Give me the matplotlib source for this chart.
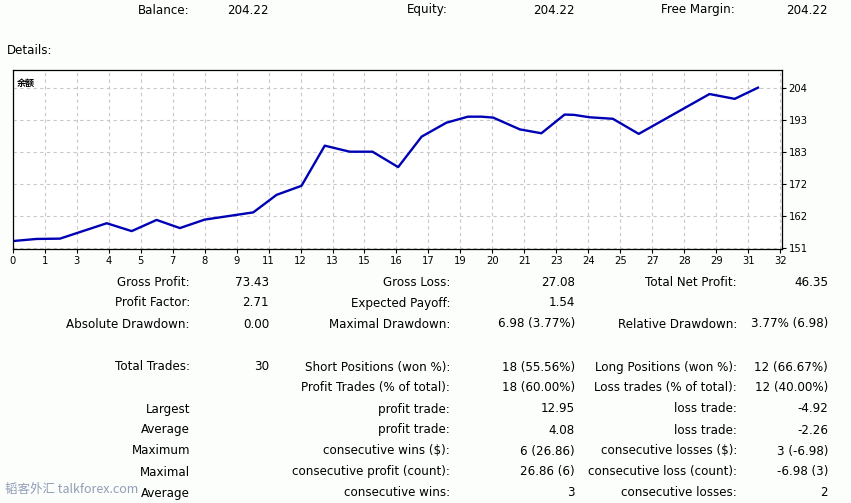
import numpy as np
import matplotlib.pyplot as plt

# balance curve (trade axis units, value)
trade_x = [0.0, 1.0, 1.97, 3.92, 4.96, 6.0, 6.97, 8.0, 10.03, 11.0, 12.04, 13.01,
           14.05, 15.0, 16.07, 17.05, 18.08, 18.98, 19.54, 20.03, 21.14, 22.04,
           23.01, 23.4, 24.05, 25.02, 26.1, 29.05, 30.1, 31.07]
balance = [153.4, 154.1, 154.2, 159.3, 156.7, 160.4, 157.7, 160.5, 162.9, 168.7,
           171.7, 185.0, 183.0, 183.0, 177.9, 188.0, 192.6, 194.6, 194.6, 194.3,
           190.4, 189.1, 195.3, 195.2, 194.4, 193.9, 188.9, 202.1, 200.5, 204.2]

x_labels = ['0', '1', '3', '4', '5', '7', '8', '9', '11', '12', '13', '15', '16',
            '17', '19', '20', '21', '23', '24', '25', '27', '28', '29', '31', '32']
y_labels = ['151', '162', '172', '183', '193', '204']

header = [('Balance:', '204.22'), ('Equity:', '204.22'), ('Free Margin:', '204.22')]

rows = [
    (283, ['Gross Profit:', '73.43', 'Gross Loss:', '27.08', 'Total Net Profit:', '46.35']),
    (303, ['Profit Factor:', '2.71', 'Expected Payoff:', '1.54', '', '']),
    (324, ['Absolute Drawdown:', '0.00', 'Maximal Drawdown:', '6.98 (3.77%)',
           'Relative Drawdown:', '3.77% (6.98)']),
    (367, ['Total Trades:', '30', 'Short Positions (won %):', '18 (55.56%)',
           'Long Positions (won %):', '12 (66.67%)']),
    (388, ['', '', 'Profit Trades (% of total):', '18 (60.00%)',
           'Loss trades (% of total):', '12 (40.00%)']),
    (409, ['Largest', '', 'profit trade:', '12.95', 'loss trade:', '-4.92']),
    (430, ['Average', '', 'profit trade:', '4.08', 'loss trade:', '-2.26']),
    (451, ['Maximum', '', 'consecutive wins ($):', '6 (26.86)',
           'consecutive losses ($):', '3 (-6.98)']),
    (472, ['Maximal', '', 'consecutive profit (count):', '26.86 (6)',
           'consecutive loss (count):', '-6.98 (3)']),
    (493, ['Average', '', 'consecutive wins:', '3', 'consecutive losses:', '2']),
]

W, H = 851, 503
fig = plt.figure(figsize=(W / 100, H / 100), dpi=100)
fig.patch.set_facecolor('#fcfefc')


def px(x, y):
    return x / W, 1 - y / H


fs = 8.6
# header line
for (lab, val), xl, xv in zip(header, [138, 407, 661], [269, 575, 828]):
    fig.text(*px(xl, 10), lab, fontsize=fs, va='center', ha='left')
    fig.text(*px(xv, 10), val, fontsize=fs, va='center', ha='right')
fig.text(*px(7, 51), 'Details:', fontsize=fs, va='center', ha='left')

# chart
ax = fig.add_axes([12.7 / W, 1 - 249 / H, 769 / W, 179 / H])
ax.set_facecolor('white')
ax.plot(trade_x, balance, color='#0000b4', lw=1.7, solid_joinstyle='round')
ax.set_xlim(0, 32.06)
ax.set_ylim(150.77, 210.06)
ax.set_xticks(np.arange(25) * 4 / 3)
ax.set_xticklabels(x_labels)
ax.set_yticks(np.linspace(151, 204, 6))
ax.set_yticklabels(y_labels)
ax.yaxis.tick_right()
ax.tick_params(direction='out', length=3, width=0.8, labelsize=7.2, pad=2)
ax.grid(True, color='#c8c8c8', linestyle=(0, (3, 3)), lw=0.8)
for s in ax.spines.values():
    s.set_color('black')
    s.set_linewidth(0.9)
ax.text(0.005, 0.95, '余额', transform=ax.transAxes, fontsize=6.5, fontweight='bold',
        family=['Noto Sans CJK SC', 'DejaVu Sans'], va='top', ha='left')

# statistics table
cols = [190, 269, 450, 575, 737, 828]
for y, cells in rows:
    for xc, txt in zip(cols, cells):
        if txt:
            fig.text(*px(xc, y), txt, fontsize=fs, va='center', ha='right')

# watermark
fig.text(*px(5, 489), '韬客外汇 talkforex.com', fontsize=9, color='#7d8ca8',
         alpha=0.85, family=['Noto Sans CJK SC', 'DejaVu Sans'], va='center', ha='left')

fig.savefig('out.png', dpi=100, facecolor=fig.get_facecolor())
